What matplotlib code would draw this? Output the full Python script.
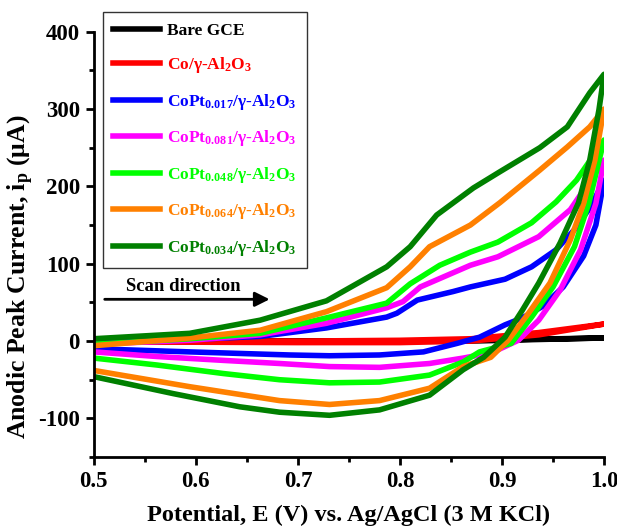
import matplotlib
matplotlib.use("Agg")
import matplotlib.pyplot as plt
from matplotlib.ticker import MultipleLocator

plt.rcParams['font.family'] = ['Liberation Serif', 'DejaVu Serif']
plt.rcParams['font.weight'] = 'bold'
plt.rcParams['mathtext.default'] = 'regular'
plt.rcParams['axes.unicode_minus'] = False

# Bare GCE
bare_E = [0.5, 0.8, 0.87, 1.0, 0.87, 0.5]
bare_I = [0, 0, 1, 4, 0, -1]

# Co/γ-Al2O3
co_E = [0.5, 0.7, 0.8, 0.87, 0.936, 1.0, 0.936, 0.87, 0.8, 0.7, 0.5]
co_I = [1, 0, 1, 3, 11, 22, 8, 0, -2, -2, -1]

# CoPt0.017
p017_E = [0.5, 0.594, 0.663, 0.728, 0.787, 0.797, 0.817, 0.852, 0.869, 0.903, 0.929,
          0.953, 0.971, 0.987, 1.0,
          0.992, 0.98, 0.96, 0.94, 0.92, 0.903, 0.878, 0.856, 0.823, 0.78, 0.731,
          0.692, 0.594, 0.5]
p017_I = [-3, 2, 6, 17, 31, 36, 53, 64, 70, 80, 96, 118, 144, 174, 208,
          150, 110, 70, 45, 30, 21, 5, -3, -14, -18, -19, -18, -14, -10]

# CoPt0.081
p081_E = [0.5, 0.594, 0.663, 0.728, 0.787, 0.803, 0.82, 0.869, 0.896, 0.936, 0.967, 1.0,
          0.992, 0.977, 0.957, 0.936, 0.916, 0.895, 0.878, 0.862, 0.829, 0.78, 0.731,
          0.682, 0.627, 0.562, 0.5]
p081_I = [-4, 1, 8, 23, 43, 51, 70, 98, 109, 135, 170, 234,
          178, 118, 66, 27, 1, -12, -18, -22, -29, -34, -33, -29, -25, -20, -14]

# CoPt0.048
p048_E = [0.5, 0.594, 0.663, 0.728, 0.787, 0.81, 0.839, 0.869, 0.896, 0.929, 0.953, 0.973, 1.0,
          0.985, 0.971, 0.95, 0.929, 0.909, 0.878, 0.862, 0.829, 0.78, 0.731, 0.682,
          0.627, 0.562, 0.5]
p048_I = [-4, 3, 10, 30, 49, 74, 98, 115, 128, 153, 180, 208, 260,
          178, 122, 70, 31, -3, -14, -27, -44, -53, -54, -50, -42, -31, -22]

# CoPt0.064
p064_E = [0.5, 0.594, 0.663, 0.728, 0.787, 0.81, 0.829, 0.869, 0.898, 0.937, 0.964, 0.986, 1.0,
          0.991, 0.98, 0.967, 0.947, 0.926, 0.906, 0.889, 0.862, 0.829, 0.78, 0.731,
          0.682, 0.594, 0.5]
p064_I = [-6, 4, 14, 38, 69, 96, 122, 150, 179, 221, 251, 277, 300,
          234, 178, 131, 75, 36, 1, -21, -33, -61, -77, -82, -77, -59, -38]

# CoPt0.034
p034_E = [0.5, 0.594, 0.663, 0.728, 0.787, 0.81, 0.836, 0.872, 0.898, 0.937, 0.964, 0.986, 1.0,
          0.995, 0.986, 0.975, 0.957, 0.936, 0.92, 0.903, 0.882, 0.862, 0.829, 0.78,
          0.731, 0.682, 0.643, 0.578, 0.5]
p034_I = [3, 10, 27, 52, 96, 122, 163, 198, 219, 250, 277, 321, 345,
          299, 234, 179, 127, 75, 40, 5, -21, -37, -70, -89, -96, -92, -85, -68, -46]

series = [
    (bare_E, bare_I, 'black', 'Bare GCE'),
    (co_E, co_I, '#ff0000', 'Co/γ-Al$_2$O$_3$'),
    (p017_E, p017_I, '#0000ff', 'CoPt$_{0.017}$/γ-Al$_2$O$_3$'),
    (p081_E, p081_I, '#ff00ff', 'CoPt$_{0.081}$/γ-Al$_2$O$_3$'),
    (p048_E, p048_I, '#00ff00', 'CoPt$_{0.048}$/γ-Al$_2$O$_3$'),
    (p064_E, p064_I, '#ff8000', 'CoPt$_{0.064}$/γ-Al$_2$O$_3$'),
    (p034_E, p034_I, '#008000', 'CoPt$_{0.034}$/γ-Al$_2$O$_3$'),
]

fig = plt.figure(figsize=(6.17, 5.29), dpi=100)
ax = fig.add_axes([0.152, 0.136, 0.827, 0.804])

for E, I, c, lab in series:
    ax.plot(E, I, color=c, lw=4, label=lab, solid_joinstyle='round')

ax.set_xlim(0.5, 1.0)
ax.set_ylim(-150, 400)
ax.xaxis.set_major_locator(MultipleLocator(0.1))
ax.xaxis.set_minor_locator(MultipleLocator(0.05))
ax.yaxis.set_major_locator(MultipleLocator(100))
ax.yaxis.set_minor_locator(MultipleLocator(50))
ax.xaxis.set_major_formatter(plt.FormatStrFormatter('%.1f'))

for s in ['top', 'right']:
    ax.spines[s].set_visible(False)
for s in ['left', 'bottom']:
    ax.spines[s].set_linewidth(2)
ax.tick_params(which='major', direction='out', length=6, width=2, labelsize=16.5, pad=4)
ax.tick_params(which='minor', direction='out', length=3.5, width=2)

ax.set_xlabel('Potential, E (V) vs. Ag/AgCl (3 M KCl)', fontsize=17.5, fontweight='bold',
              labelpad=9)
ax.set_ylabel('Anodic Peak Current, i$_p$ (μA)', fontsize=18.5, fontweight='bold')
ax.yaxis.set_label_coords(-0.113, 0.425)

ax.annotate('', xy=(0.675, 54), xytext=(0.508, 54),
            arrowprops=dict(arrowstyle='-|>', lw=2, color='black', mutation_scale=22))
ax.text(0.588, 70, 'Scan direction', fontsize=13.5, fontweight='bold', ha='center', va='center')

leg = ax.legend(loc='upper left', bbox_to_anchor=(0.167, 0.977), bbox_transform=fig.transFigure,
                fontsize=12.5, frameon=True, fancybox=False, edgecolor='black', borderaxespad=0,
                handlelength=2.7, handletextpad=0.4, labelspacing=0.95, borderpad=0.6,
                labelcolor='linecolor')
leg.get_frame().set_linewidth(1)

fig.savefig('out.png', dpi=100)
